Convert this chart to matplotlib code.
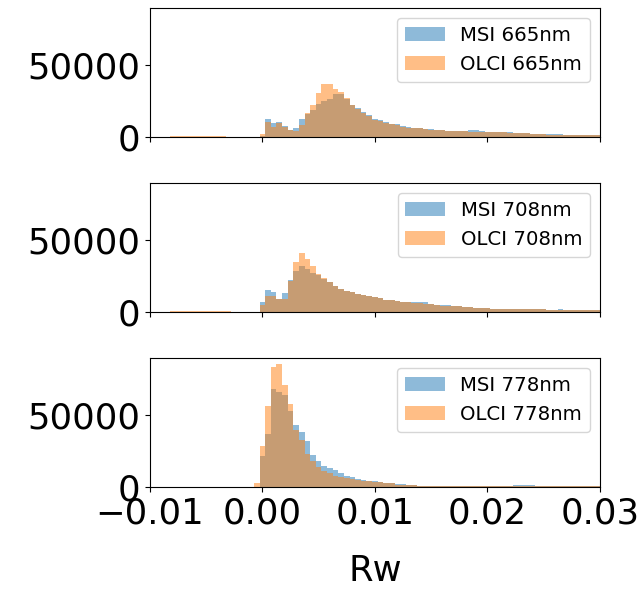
import numpy as np
import matplotlib
matplotlib.use('Agg')
from matplotlib import pyplot as plt

# bin centres: -0.0100 ... 0.0300 step 0.0005 (81 bins)
centers = np.round(np.arange(-0.01, 0.03001, 0.0005), 5)
edges = np.append(centers - 0.00025, centers[-1] + 0.00025)

bands = ['665nm', '708nm', '778nm']

msi_665 = [0, 0, 0, 0, 0, 0, 0, 0, 0, 0, 0, 0, 0, 0, 0, 0, 0, 0, 0, 0,
           500, 12700, 9400, 10300, 7500, 4500, 6300, 12200, 16000, 19000,
           22700, 25000, 26700, 29800, 29800, 26700, 22000, 20200, 17400, 15000,
           12700, 11700, 10500, 9300, 8700, 7500, 6800, 6300, 6300, 5600,
           5200, 4700, 4700, 4000, 4000, 4000, 4000, 4500, 4500, 4300,
           3300, 3300, 3300, 3200, 3100, 2800, 2800, 2800, 2300, 2200,
           2100, 1700, 1700, 1700, 1600, 1600, 1600, 1200, 1200, 1200, 1100]
olci_665 = [0, 0, 0, 0, 300, 300, 300, 300, 300, 300, 300, 300, 300, 300, 0, 0, 0, 0, 0, 0,
            2300, 10300, 7000, 9400, 7000, 4800, 4000, 8000, 17000, 22000,
            31000, 36800, 36800, 33800, 31400, 27500, 22500, 19200, 16900, 14500,
            12000, 11000, 10000, 9000, 8000, 7000, 6300, 6000, 5900, 5400,
            5000, 4700, 4500, 3800, 3800, 3800, 3800, 3500, 3500, 3500,
            3300, 3300, 3200, 3200, 3000, 2800, 2700, 2600, 2100, 2100,
            2000, 1650, 1650, 1600, 1600, 1500, 1500, 1200, 1200, 1100, 1100]

msi_708 = [0, 0, 0, 0, 0, 0, 0, 0, 0, 0, 0, 0, 0, 0, 0, 0, 0, 0, 0, 0,
           6600, 15500, 13600, 9200, 13100, 22000, 28400, 31900, 30000, 27200,
           26000, 23000, 20600, 17900, 16000, 14800, 13800, 12400, 11500, 10800,
           10300, 9600, 8600, 8200, 7500, 7000, 6600, 6800, 7000, 6600,
           5200, 4700, 4700, 4700, 4200, 4000, 3500, 3300, 3000, 2800,
           2600, 1900, 1900, 1900, 1900, 1900, 1700, 1700, 1700, 1700,
           1700, 1500, 1600, 1700, 1600, 1500, 1300, 1300, 1300, 1300, 1300]
olci_708 = [0, 0, 0, 0, 300, 300, 300, 300, 300, 300, 300, 300, 300, 300, 300, 0, 0, 0, 0, 0,
            4700, 11300, 11300, 9000, 8900, 21500, 34700, 40800, 37100, 32400,
            26500, 23500, 20600, 17900, 16000, 14800, 13800, 12400, 11500, 10800,
            10300, 9400, 8400, 8200, 7500, 7000, 6600, 6400, 5900, 5600,
            5200, 4700, 4300, 4200, 4200, 4000, 3500, 3300, 3000, 2800,
            2600, 1900, 1900, 1900, 1900, 1900, 1700, 1700, 1700, 1700,
            1700, 1500, 1500, 1500, 1500, 1500, 1300, 1300, 1300, 1300, 1300]

msi_778 = [0, 0, 0, 0, 0, 0, 0, 0, 0, 0, 0, 0, 0, 0, 0, 0, 0, 0, 0, 0,
           21800, 37100, 68300, 66400, 64100, 52800, 43000, 38200, 31900, 22300,
           18300, 14800, 13100, 11700, 9400, 7700, 6600, 5400, 4700, 4200,
           3800, 3300, 2300, 2300, 1900, 1900, 1400, 1400, 800, 800,
           800, 600, 600, 600, 600, 600, 600, 600, 600, 600,
           600, 600, 600, 600, 600, 1000, 1000, 1000, 1000, 700,
           700, 700, 700, 700, 300, 300, 300, 300, 300, 300, 300]
olci_778 = [0, 0, 0, 0, 0, 0, 0, 0, 0, 0, 0, 0, 0, 0, 0, 0, 0, 0, 0, 2300,
            28200, 56500, 84000, 85700, 71100, 58200, 39400, 32400, 23000, 18300,
            14100, 11300, 9400, 7700, 6600, 6100, 5400, 4700, 4200, 3800,
            3300, 3000, 2300, 2300, 1200, 1200, 1200, 1200, 800, 800,
            800, 600, 600, 600, 600, 600, 600, 600, 600, 600,
            600, 600, 600, 600, 600, 300, 300, 300, 300, 300,
            300, 300, 300, 300, 300, 300, 300, 300, 300, 300, 300]

msi = [msi_665, msi_708, msi_778]
olci = [olci_665, olci_708, olci_778]

fig, axes = plt.subplots(3, 1, sharex=True, sharey=True, figsize=(6.43, 5.9), dpi=100)
fig.subplots_adjust(left=0.233, right=0.933, top=0.986, bottom=0.175, hspace=0.36)

for ax, band, m, o in zip(axes, bands, msi, olci):
    ax.hist(centers, bins=edges, weights=m, alpha=0.5, label='MSI ' + band)
    ax.hist(centers, bins=edges, weights=o, alpha=0.5, label='OLCI ' + band)
    ax.legend(loc='upper right', fontsize=14.2)
    ax.tick_params(labelsize=25.5)

axes[-1].set_xlim(-0.01, 0.03)
axes[-1].set_xticks([-0.01, 0.0, 0.01, 0.02, 0.03])
axes[-1].set_yticks([0, 50000])
axes[-1].set_xlabel('Rw', fontsize=25.5, labelpad=17)

plt.savefig('out.png', dpi=100)
